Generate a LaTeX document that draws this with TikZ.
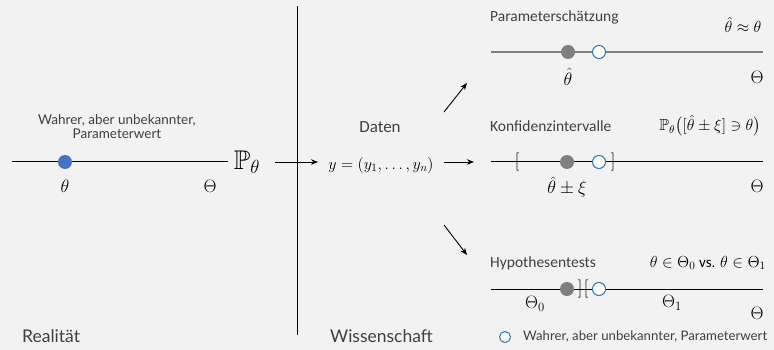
\RequirePackage{fix-cm}
\documentclass[tikz,border=0pt]{standalone}
\usepackage{amsmath,amssymb}
\usepackage{fontspec}
\setmainfont{Carlito}
\newfontfamily\latofont{Lato}
\usetikzlibrary{arrows.meta}
\definecolor{bg}{HTML}{F2F2F2}
\definecolor{txt}{HTML}{404040}
\definecolor{blueA}{HTML}{4472C4}
\definecolor{blueB}{HTML}{2E75B6}
\definecolor{grayA}{HTML}{7F7F7F}
\tikzset{
  lbl/.style={font=\latofont\fontsize{13.5}{14}\selectfont, text=txt, inner sep=0pt},
  ttl/.style={font=\fontsize{15.5}{18}\selectfont, text=txt, anchor=west, inner sep=0pt},
  mth/.style={font=\fontsize{18}{20}\selectfont, inner sep=0pt},
  fml/.style={font=\fontsize{16}{18}\selectfont, inner sep=0pt},
  bigl/.style={font=\latofont\fontsize{17.5}{20}\selectfont, text=txt, anchor=west, inner sep=0pt},
  truedot/.style={circle, fill=blueA, minimum size=14pt, inner sep=0pt},
  estdot/.style={circle, fill=grayA, minimum size=14pt, inner sep=0pt},
  opendot/.style={circle, draw=blueB, fill=white, line width=1pt, minimum size=13pt, inner sep=0pt},
  arr/.style={-{Stealth[length=7pt,width=5.5pt]}, line width=0.9pt},
  axis/.style={line width=1pt, black},
  gaxis/.style={line width=1.8pt, grayA},
}
\begin{document}
\begin{tikzpicture}[x=1pt,y=-1pt]
\fill[bg] (0,0) rectangle (774,350);
\useasboundingbox (0,0) rectangle (774,350);

% left: reality
\coordinate (l0) at (12,162);
\coordinate (l1) at (228,162);
\draw[axis] (l0) -- (l1);
\node[truedot] (tru) at (65,162) {};
\node[mth] (th) at (65,186) {$\theta$};
\node[mth] (Th) at (210,186) {$\Theta$};
\node[lbl, align=center] (wl) at (117,127) {Wahrer, aber unbekannter,\\Parameterwert};
\node[font=\fontsize{27}{27}\selectfont, inner sep=0pt] (P) at (247,162) {$\mathbb{P}_\theta$};

% separator
\coordinate (v0) at (297,6);
\coordinate (v1) at (297,335);
\draw[axis] (v0) -- (v1);

% data
\node[font=\fontsize{17}{20}\selectfont, text=txt, inner sep=0pt] (daten) at (380,127) {Daten};
\node[fml] (yd) at (381,165) {$y=(y_1,\mathinner{\ldotp\ldotp\ldotp},y_n)$};
\coordinate (a0) at (275,162);
\coordinate (a1) at (318,162);
\draw[arr] (a0) -- (a1);
\coordinate (u0) at (444,112);
\coordinate (u1) at (467,83);
\draw[arr] (u0) -- (u1);
\coordinate (m0) at (444,162);
\coordinate (m1) at (474,162);
\draw[arr] (m0) -- (m1);
\coordinate (d0) at (444,225);
\coordinate (d1) at (467,255);
\draw[arr] (d0) -- (d1);

% panel 1
\node[ttl] (t1) at (490,17) {Parameterschätzung};
\node[fml] (f1) at (743,25) {$\hat\theta\approx\theta$};
\coordinate (p1a) at (491,52);
\coordinate (p1b) at (763,52);
\draw[gaxis] (p1a) -- (p1b);
\node[estdot] (e1) at (568,52) {};
\node[opendot] (o1) at (599,52) {};
\node[mth] (eh1) at (568,77) {$\hat\theta$};
\node[mth] (Th1) at (757,77) {$\Theta$};

% panel 2
\node[ttl] (t2) at (490,126) {Konfidenzintervalle};
\node[fml, anchor=east] (f2) at (761,126) {$\mathbb{P}_\theta\bigl([\hat\theta\pm\xi]\ni\theta\bigr)$};
\coordinate (p2a) at (491,162);
\coordinate (p2b) at (763,162);
\draw[axis] (p2a) -- (p2b);
\node[mth] (lb2) at (517,162) {$[$};
\node[mth] (rb2) at (613,162) {$]$};
\node[estdot] (e2) at (567,162) {};
\node[opendot] (o2) at (599,162) {};
\node[mth] (ci2) at (567,187) {$\hat\theta\pm\xi$};
\node[mth] (Th2) at (757,186) {$\Theta$};

% panel 3
\node[ttl] (t3) at (490,263) {Hypothesentests};
\node[fml, anchor=east] (f3) at (766,263) {$\theta\in\Theta_0$ {\fontsize{15}{18}\selectfont vs.} $\theta\in\Theta_1$};
\coordinate (p3a) at (491,289);
\coordinate (p3b) at (763,289);
\draw[axis] (p3a) -- (p3b);
\node[estdot] (e3) at (567,289) {};
\node[mth] (rb3) at (580,289) {$]$};
\node[mth] (lb3) at (586,289) {$[$};
\node[opendot] (o3) at (599,289) {};
\node[mth] (T0) at (535,304) {$\Theta_0$};
\node[mth] (T1) at (672,303) {$\Theta_1$};
\node[mth] (Th3) at (757,313) {$\Theta$};

% legend
\node[opendot, minimum size=11pt] (lg) at (505,337) {};
\node[lbl, anchor=west, font=\latofont\fontsize{13.2}{14}\selectfont] (lgt) at (523,337) {Wahrer, aber unbekannter, Parameterwert};

% bottom labels
\node[bigl] (real) at (22,336) {Realität};
\node[bigl] (wiss) at (330,336) {Wissenschaft};
\end{tikzpicture}
\end{document}
